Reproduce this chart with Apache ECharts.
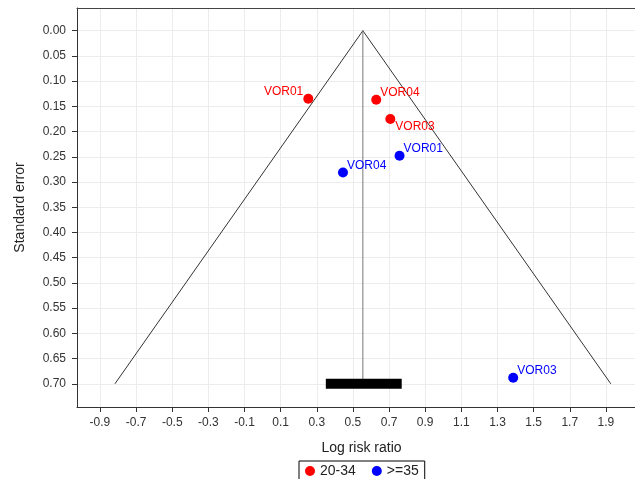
<!DOCTYPE html>
<html>
<head>
<meta charset="utf-8">
<script src="https://cdn.jsdelivr.net/npm/echarts@6/dist/echarts.min.js"></script>
<style>
  html, body { margin: 0; padding: 0; background: #fff; }
  #chart { width: 635px; height: 479px; }
</style>
</head>
<body>
<div id="chart"></div>
<script>
// ---- data ----
const groupNames = ['20-34', '>=35'];

const youngStudies = ['VOR01', 'VOR04', 'VOR03'];
const youngLogRR = [0.253, 0.629, 0.707];
const youngSE = [0.135, 0.137, 0.175];

const olderStudies = ['VOR01', 'VOR04', 'VOR03'];
const olderLogRR = [0.758, 0.445, 1.387];
const olderSE = [0.248, 0.281, 0.688];

// pooled estimate, its CI and the pseudo 95% funnel
const pooledLogRR = 0.555;
const pooledCI = [0.35, 0.77];
const funnelX = [-0.817, 0.555, 1.927];
const funnelY = [0.70, 0.00, 0.70];

const xTicks = [-0.9, -0.7, -0.5, -0.3, -0.1, 0.1, 0.3, 0.5, 0.7, 0.9, 1.1, 1.3, 1.5, 1.7, 1.9];
const yTicks = [0, 0.05, 0.1, 0.15, 0.2, 0.25, 0.3, 0.35, 0.4, 0.45, 0.5, 0.55, 0.6, 0.65, 0.7];

// ---- styling ----
const RED = '#ff0000';
const BLUE = '#0000ff';
const AXIS = '#333333';
const GRIDLINE = '#ececec';
const FONT = 'Liberation Sans, Arial, sans-serif';

// where each study label sits relative to its dot
const labelSpot = {
  leftUp: { position: [0, -2], align: 'right', verticalAlign: 'middle' },
  rightUp: { position: [9, -2], align: 'left', verticalAlign: 'middle' },
  rightDown: { position: [10, 13], align: 'left', verticalAlign: 'middle' }
};
const youngSpots = ['leftUp', 'rightUp', 'rightDown'];
const olderSpots = ['rightUp', 'rightUp', 'rightUp'];

function points(names, xs, ys, spots, color) {
  return names.map((n, i) => ({
    name: n,
    value: [xs[i], ys[i]],
    label: Object.assign({ show: true, color: color, fontSize: 12, fontFamily: FONT, formatter: '{b}' }, labelSpot[spots[i]])
  }));
}

const chart = echarts.init(document.getElementById('chart'));

// plot runs off the right edge of the picture, so no right border
const xMin = -1.027, xMax = 2.061;

chart.setOption({
  animation: false,
  backgroundColor: '#fff',
  textStyle: { fontFamily: FONT },
  grid: { left: 77, top: 8, width: 558, height: 399 },
  xAxis: [
    {
      type: 'value',
      min: xMin, max: xMax,
      name: 'Log risk ratio',
      nameLocation: 'middle',
      nameGap: 34,
      nameTextStyle: { fontSize: 14, color: '#222', fontFamily: FONT, padding: [0, 0, 0, 11] },
      axisLine: { onZero: false, lineStyle: { color: AXIS } },
      axisTick: { customValues: xTicks, length: 5, lineStyle: { color: AXIS } },
      axisLabel: {
        customValues: xTicks, margin: 10, fontSize: 12, color: '#333', fontFamily: FONT,
        formatter: v => v.toFixed(1)
      },
      splitLine: { show: true, lineStyle: { color: GRIDLINE } }
    },
    {
      // top frame line only
      type: 'value',
      position: 'top',
      min: xMin, max: xMax,
      axisLine: { show: true, onZero: false, lineStyle: { color: '#444' } },
      axisTick: { show: false },
      axisLabel: { show: false },
      splitLine: { show: false }
    }
  ],
  yAxis: {
    type: 'value',
    inverse: true,
    min: -0.045, max: 0.746,
    name: 'Standard error',
    nameLocation: 'middle',
    nameGap: 50,
    nameTextStyle: { fontSize: 14, color: '#222', fontFamily: FONT },
    axisLine: { onZero: false, lineStyle: { color: AXIS } },
    axisTick: { customValues: yTicks, length: 5, lineStyle: { color: AXIS } },
    axisLabel: {
      customValues: yTicks, margin: 11, fontSize: 12, color: '#333', fontFamily: FONT,
      formatter: v => v.toFixed(2)
    },
    splitLine: { show: true, lineStyle: { color: GRIDLINE } }
  },
  legend: {
    data: groupNames,
    left: 299, top: 461,
    orient: 'horizontal',
    icon: 'circle',
    itemWidth: 10, itemHeight: 10, itemGap: 16,
    padding: [3, 6, 3, 6],
    borderColor: '#000', borderWidth: 1,
    textStyle: { fontSize: 14, color: '#222', fontFamily: FONT }
  },
  series: [
    {
      type: 'line',
      data: funnelX.map((x, i) => [x, funnelY[i]]),
      symbol: 'none',
      lineStyle: { color: '#333', width: 1 },
      silent: true, z: 1
    },
    {
      type: 'line',
      data: [[pooledLogRR, 0], [pooledLogRR, funnelY[0]]],
      symbol: 'none',
      lineStyle: { color: '#777', width: 1 },
      silent: true, z: 1
    },
    {
      type: 'line',
      data: [[pooledCI[0], funnelY[0]], [pooledCI[1], funnelY[0]]],
      symbol: 'none',
      lineStyle: { color: '#000', width: 10, cap: 'butt' },
      silent: true, z: 2
    },
    {
      name: groupNames[0],
      type: 'scatter',
      symbolSize: 10,
      itemStyle: { color: RED, opacity: 1 },
      data: points(youngStudies, youngLogRR, youngSE, youngSpots, RED),
      z: 5
    },
    {
      name: groupNames[1],
      type: 'scatter',
      symbolSize: 10,
      itemStyle: { color: BLUE, opacity: 1 },
      data: points(olderStudies, olderLogRR, olderSE, olderSpots, BLUE),
      z: 5
    }
  ]
});
</script>
</body>
</html>
